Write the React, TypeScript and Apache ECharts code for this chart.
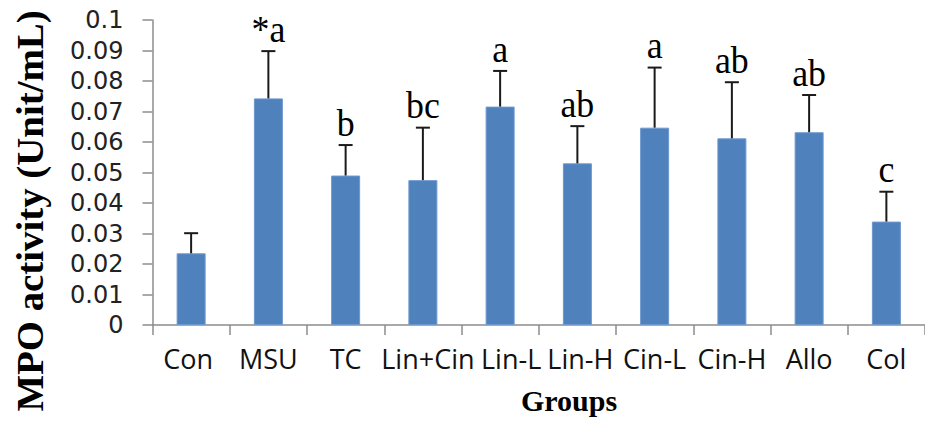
import React, { useEffect, useRef } from "react";
import * as echarts from "echarts";

const categories = ["Con", "MSU", "TC", "Lin+Cin", "Lin-L", "Lin-H", "Cin-L", "Cin-H", "Allo", "Col"];
const means = [0.0235, 0.0743, 0.049, 0.0475, 0.0716, 0.053, 0.0647, 0.0612, 0.0632, 0.0339];
const upper = [0.0301, 0.0898, 0.059, 0.0647, 0.0833, 0.0652, 0.0844, 0.0796, 0.0754, 0.0437];
const letters = ["", "*a", "b", "bc", "a", "ab", "a", "ab", "ab", "c"];
const yMax = 0.1;
const yStep = 0.01;

const yTitle = "MPO activity (Unit/mL)";
const xTitle = "Groups";

// horizontal nudges of the category labels (px, the reference spreads the crowded ones)
const labelShift = [-3, 0, 0, 5, 11, 3, 0, 0, 0, 0];

export default function App() {
  const ref = useRef<HTMLDivElement>(null);
  useEffect(() => {
    document.body.style.margin = "0";
    const chart = echarts.init(ref.current!, null, { renderer: "svg" });
    const errData = categories.map((_, i) => [i, means[i], upper[i], letters[i]]);
    const catData = categories.map((c, i) => {
      const s = labelShift[i];
      return {
        value: c,
        textStyle: { padding: s >= 0 ? [0, 0, 0, 2 * s] : [0, -2 * s, 0, 0] },
      };
    });
    chart.setOption({
      animation: false,
      backgroundColor: "#ffffff",
      grid: { left: 152.5, top: 20, width: 777, bottom: 96, containLabel: false },
      xAxis: {
        type: "category",
        data: catData,
        boundaryGap: true,
        axisLine: { lineStyle: { color: "#8c8c8c", width: 1.5 } },
        axisTick: { show: true, length: 10, alignWithLabel: false, lineStyle: { color: "#8c8c8c", width: 1.5 } },
        axisLabel: {
          interval: 0,
          margin: 20,
          color: "#111",
          fontFamily: "Open Sans",
          fontSize: 27,
        },
      },
      yAxis: {
        type: "value",
        min: 0,
        max: yMax,
        interval: yStep,
        splitLine: { show: false },
        axisLine: { show: true, lineStyle: { color: "#8c8c8c", width: 1.5 } },
        axisTick: { show: true, length: 10, lineStyle: { color: "#8c8c8c", width: 1.5 } },
        axisLabel: {
          margin: 29,
          color: "#222",
          fontFamily: "DejaVu Sans",
          fontSize: 24,
          formatter: (v: number) => String(Math.round(v * 1000) / 1000),
        },
      },
      graphic: [
        {
          type: "text",
          x: 30,
          y: 211,
          rotation: Math.PI / 2,
          scaleX: 1.05,
          style: {
            text: yTitle,
            fontFamily: "Liberation Serif",
            fontWeight: "bold",
            fontSize: 37,
            fill: "#000",
            textAlign: "center",
            textVerticalAlign: "middle",
          },
        },
        {
          type: "text",
          x: 569,
          y: 400,
          style: {
            text: xTitle,
            fontFamily: "Liberation Serif",
            fontWeight: "bold",
            fontSize: 30,
            fill: "#000",
            textAlign: "center",
            textVerticalAlign: "middle",
          },
        },
      ],
      series: [
        {
          type: "bar",
          data: means,
          barWidth: 29,
          itemStyle: { color: "#4F81BD", borderColor: "#6d98cf", borderWidth: 1 },
        },
        {
          type: "custom",
          data: errData,
          z: 5,
          renderItem: (params: any, api: any) => {
            const idx = api.value(0);
            const base = api.coord([idx, api.value(1)]);
            const top = api.coord([idx, api.value(2)]);
            const label = letters[params.dataIndex];
            const style = { stroke: "#1a1a1a", lineWidth: 2 };
            return {
              type: "group",
              children: [
                { type: "line", shape: { x1: top[0], y1: base[1], x2: top[0], y2: top[1] }, style },
                { type: "line", shape: { x1: top[0] - 7, y1: top[1], x2: top[0] + 7, y2: top[1] }, style },
                {
                  type: "text",
                  x: top[0],
                  y: top[1] - 3,
                  scaleX: 1.12,
                  scaleY: 1.2,
                  style: {
                    text: label,
                    fontFamily: "Liberation Serif",
                    fontSize: 32,
                    fill: "#000",
                    textAlign: "center",
                    textVerticalAlign: "bottom",
                  },
                },
              ],
            };
          },
        },
      ],
    });
    return () => chart.dispose();
  }, []);
  return <div ref={ref} style={{ position: "fixed", left: 0, top: 0, width: 925, height: 421 }} />;
}
